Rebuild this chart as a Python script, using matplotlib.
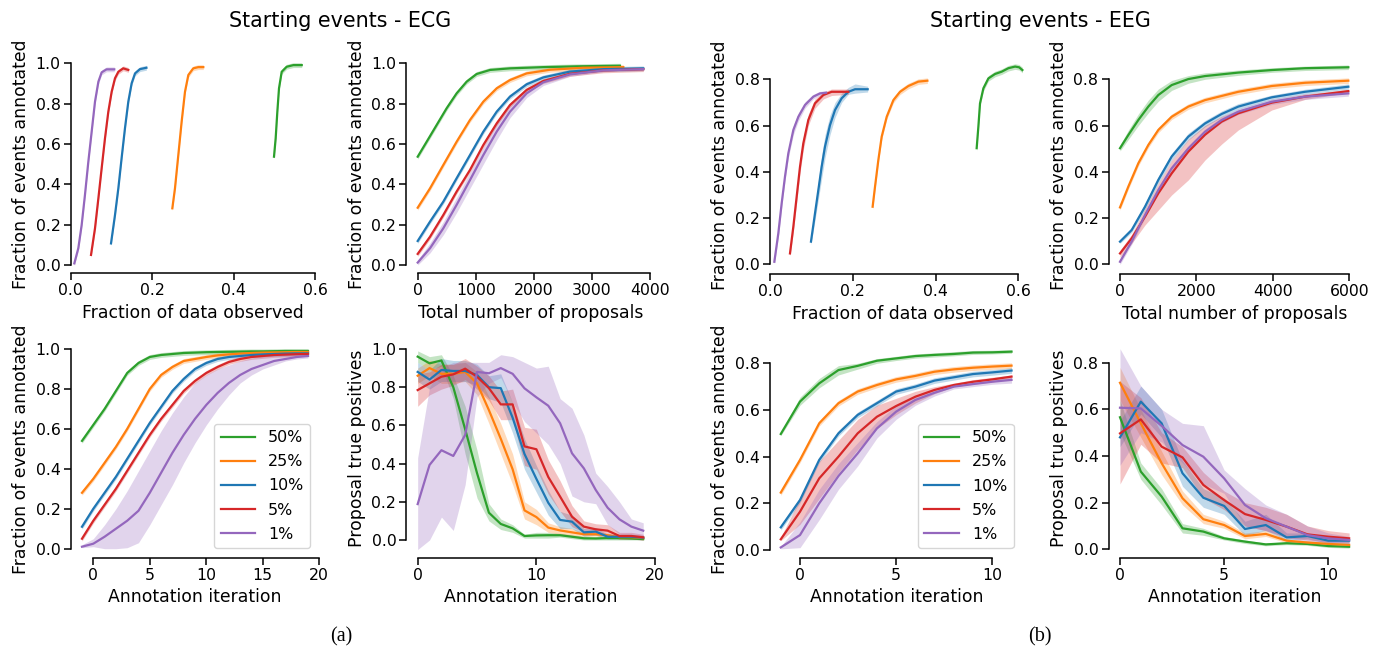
import matplotlib.pyplot as plt

W, H = 1381, 651

labels = ['50%', '25%', '10%', '5%', '1%']
colors = ['tab:green', 'tab:orange', 'tab:blue', 'tab:red', 'tab:purple']

# ---------------- ECG ----------------
# fraction of data observed vs fraction of events annotated
ecg_obs_x = [
    [0.4993, 0.5034, 0.5075, 0.5116, 0.5182, 0.5305, 0.5469, 0.5674],
    [0.2496, 0.2561, 0.2643, 0.2725, 0.2807, 0.2889, 0.301, 0.3134, 0.3257],
    [0.099, 0.1088, 0.117, 0.125, 0.1333, 0.1415, 0.1497, 0.158, 0.170, 0.186],
    [0.0499, 0.0597, 0.068, 0.076, 0.0842, 0.0924, 0.1006, 0.1088, 0.117, 0.129, 0.1415],
    [0.0089, 0.0187, 0.0269, 0.035, 0.0433, 0.0515, 0.0597, 0.068, 0.076, 0.088, 0.107],
]
ecg_obs_y = [
    [0.537, 0.628, 0.760, 0.876, 0.958, 0.983, 0.991, 0.991],
    [0.281, 0.380, 0.545, 0.711, 0.859, 0.942, 0.975, 0.981, 0.981],
    [0.107, 0.248, 0.380, 0.529, 0.678, 0.810, 0.901, 0.950, 0.971, 0.978],
    [0.050, 0.182, 0.331, 0.479, 0.628, 0.760, 0.859, 0.926, 0.958, 0.975, 0.967],
    [0.008, 0.083, 0.198, 0.347, 0.512, 0.661, 0.810, 0.909, 0.955, 0.970, 0.970],
]

# total number of proposals
ecg_prop_x = [
    [0, 154, 326, 498, 670, 843, 1015, 1245, 1589, 2163, 2737, 3483],
    [0, 212, 441, 670, 900, 1130, 1360, 1589, 1876, 2278, 2852, 3541],
    [0, 212, 441, 670, 900, 1130, 1360, 1589, 1876, 2163, 2622, 3196, 3885],
    [0, 212, 441, 670, 900, 1130, 1360, 1589, 1876, 2163, 2622, 3196, 3885],
    [0, 212, 441, 670, 900, 1130, 1360, 1589, 1876, 2163, 2622, 3196, 3885],
]
ecg_prop_y = [
    [0.537, 0.611, 0.694, 0.777, 0.851, 0.909, 0.947, 0.967, 0.975, 0.981, 0.985, 0.988],
    [0.284, 0.380, 0.496, 0.611, 0.719, 0.810, 0.876, 0.917, 0.950, 0.968, 0.978, 0.981],
    [0.119, 0.215, 0.314, 0.430, 0.545, 0.661, 0.760, 0.835, 0.896, 0.930, 0.959, 0.971, 0.975],
    [0.055, 0.140, 0.248, 0.364, 0.471, 0.595, 0.702, 0.793, 0.868, 0.912, 0.948, 0.965, 0.971],
    [0.012, 0.083, 0.182, 0.298, 0.421, 0.545, 0.661, 0.760, 0.851, 0.906, 0.945, 0.965, 0.971],
]
ecg_prop_lo = [None, None, None, None,
               [0.0, 0.06, 0.15, 0.26, 0.38, 0.50, 0.62, 0.73, 0.83, 0.89, 0.935, 0.958, 0.965]]
ecg_prop_hi = [None, None, None, None,
               [0.025, 0.11, 0.215, 0.335, 0.46, 0.585, 0.70, 0.79, 0.87, 0.92, 0.955, 0.972, 0.977]]

# annotation iteration vs fraction annotated
ecg_iter_x = list(range(-1, 20))
ecg_iter_y = [
    [0.54, 0.62, 0.70, 0.79, 0.88, 0.93, 0.96, 0.97, 0.975, 0.98, 0.982, 0.984, 0.985, 0.986, 0.987, 0.988, 0.988, 0.989, 0.99, 0.99, 0.99],
    [0.28, 0.35, 0.43, 0.51, 0.60, 0.70, 0.80, 0.87, 0.91, 0.94, 0.95, 0.96, 0.968, 0.973, 0.977, 0.98, 0.982, 0.983, 0.984, 0.985, 0.985],
    [0.11, 0.20, 0.28, 0.36, 0.45, 0.54, 0.63, 0.71, 0.79, 0.85, 0.90, 0.93, 0.95, 0.96, 0.965, 0.97, 0.973, 0.975, 0.977, 0.978, 0.978],
    [0.05, 0.14, 0.22, 0.30, 0.39, 0.48, 0.57, 0.65, 0.72, 0.79, 0.84, 0.88, 0.91, 0.935, 0.95, 0.96, 0.965, 0.97, 0.972, 0.974, 0.975],
    [0.01, 0.025, 0.06, 0.10, 0.14, 0.19, 0.28, 0.38, 0.48, 0.57, 0.65, 0.72, 0.78, 0.83, 0.87, 0.90, 0.92, 0.94, 0.95, 0.96, 0.965],
]
ecg_iter_lo = [None, None, None, None,
               [0.005, 0.01, 0.0, 0.0, 0.005, 0.03, 0.12, 0.22, 0.32, 0.43, 0.53, 0.62, 0.70, 0.77, 0.83, 0.87, 0.90, 0.92, 0.94, 0.95, 0.955]]
ecg_iter_hi = [None, None, None, None,
               [0.02, 0.05, 0.12, 0.20, 0.29, 0.39, 0.49, 0.59, 0.68, 0.76, 0.83, 0.87, 0.90, 0.92, 0.94, 0.955, 0.965, 0.97, 0.975, 0.975, 0.975]]

# annotation iteration vs proposal true positives
ecg_tp_x = list(range(0, 20))
ecg_tp_y = [
    [0.96, 0.925, 0.94, 0.80, 0.58, 0.35, 0.143, 0.084, 0.061, 0.021, 0.024, 0.025, 0.025, 0.017, 0.009, 0.008, 0.01, 0.01, 0.008, 0.005],
    [0.86, 0.90, 0.87, 0.87, 0.88, 0.82, 0.68, 0.53, 0.37, 0.155, 0.12, 0.065, 0.05, 0.04, 0.03, 0.03, 0.025, 0.015, 0.015, 0.01],
    [0.88, 0.84, 0.89, 0.885, 0.885, 0.864, 0.80, 0.795, 0.64, 0.45, 0.32, 0.195, 0.105, 0.096, 0.04, 0.044, 0.017, 0.017, 0.017, 0.012],
    [0.785, 0.82, 0.855, 0.867, 0.897, 0.855, 0.795, 0.71, 0.71, 0.49, 0.475, 0.33, 0.227, 0.122, 0.07, 0.056, 0.049, 0.021, 0.021, 0.014],
    [0.188, 0.393, 0.47, 0.44, 0.55, 0.88, 0.873, 0.90, 0.87, 0.794, 0.747, 0.703, 0.611, 0.454, 0.375, 0.262, 0.169, 0.108, 0.07, 0.049],
]
ecg_tp_lo = [
    [0.93, 0.89, 0.91, 0.74, 0.45, 0.22, 0.10, 0.055, 0.04, 0.01, 0.01, 0.01, 0.015, 0.007, 0.0, 0.0, 0.0, 0.0, 0.0, 0.0],
    [0.82, 0.86, 0.82, 0.82, 0.83, 0.76, 0.61, 0.45, 0.29, 0.11, 0.08, 0.04, 0.03, 0.02, 0.02, 0.02, 0.015, 0.005, 0.005, 0.0],
    [0.83, 0.79, 0.83, 0.83, 0.83, 0.81, 0.74, 0.72, 0.56, 0.37, 0.25, 0.13, 0.06, 0.06, 0.02, 0.025, 0.005, 0.005, 0.005, 0.0],
    [0.70, 0.76, 0.79, 0.81, 0.84, 0.79, 0.73, 0.63, 0.63, 0.39, 0.37, 0.24, 0.15, 0.07, 0.04, 0.03, 0.02, 0.005, 0.005, 0.0],
    [-0.05, 0.0, 0.12, 0.05, 0.29, 0.75, 0.82, 0.85, 0.72, 0.62, 0.56, 0.50, 0.40, 0.23, 0.20, 0.19, 0.08, 0.03, 0.02, 0.01],
]
ecg_tp_hi = [
    [0.99, 0.96, 0.97, 0.86, 0.70, 0.47, 0.19, 0.11, 0.08, 0.03, 0.04, 0.04, 0.035, 0.027, 0.02, 0.018, 0.02, 0.02, 0.018, 0.015],
    [0.90, 0.94, 0.92, 0.92, 0.93, 0.88, 0.75, 0.61, 0.45, 0.20, 0.16, 0.09, 0.07, 0.06, 0.04, 0.04, 0.035, 0.025, 0.025, 0.02],
    [0.93, 0.89, 0.95, 0.94, 0.94, 0.92, 0.86, 0.87, 0.72, 0.53, 0.39, 0.26, 0.15, 0.13, 0.06, 0.065, 0.03, 0.03, 0.03, 0.025],
    [0.87, 0.88, 0.92, 0.92, 0.95, 0.91, 0.86, 0.78, 0.79, 0.59, 0.58, 0.42, 0.31, 0.18, 0.10, 0.085, 0.08, 0.04, 0.04, 0.03],
    [0.43, 0.80, 0.90, 0.93, 0.93, 0.93, 0.93, 0.97, 0.96, 0.93, 0.90, 0.91, 0.74, 0.69, 0.55, 0.35, 0.28, 0.20, 0.11, 0.09],
]

# ---------------- EEG ----------------
eeg_obs_x = [
    [0.4994, 0.5035, 0.5075, 0.5156, 0.5277, 0.5438, 0.5599, 0.576, 0.5922, 0.6018, 0.6099],
    [0.248, 0.2538, 0.2618, 0.2699, 0.282, 0.2981, 0.3142, 0.3344, 0.3585, 0.3803],
    [0.099, 0.1087, 0.1168, 0.1248, 0.1329, 0.145, 0.1571, 0.1732, 0.1893, 0.2055, 0.236],
    [0.0483, 0.0564, 0.0644, 0.0725, 0.0805, 0.0926, 0.1087, 0.1289, 0.149, 0.1893],
    [0.0105, 0.0201, 0.0282, 0.0362, 0.0443, 0.0564, 0.0685, 0.0846, 0.1047, 0.1208, 0.1353],
]
eeg_obs_y = [
    [0.502, 0.595, 0.696, 0.761, 0.804, 0.823, 0.833, 0.848, 0.855, 0.852, 0.840],
    [0.249, 0.336, 0.451, 0.552, 0.638, 0.710, 0.746, 0.771, 0.790, 0.794],
    [0.098, 0.220, 0.321, 0.422, 0.509, 0.602, 0.667, 0.718, 0.746, 0.757, 0.757],
    [0.047, 0.163, 0.292, 0.422, 0.523, 0.624, 0.696, 0.732, 0.746, 0.746],
    [0.011, 0.134, 0.264, 0.379, 0.480, 0.581, 0.638, 0.689, 0.725, 0.739, 0.742],
]
eeg_obs_lo = [None, None,
              [0.085, 0.19, 0.28, 0.37, 0.46, 0.56, 0.635, 0.70, 0.735, 0.74, 0.745],
              [0.035, 0.14, 0.265, 0.395, 0.495, 0.60, 0.675, 0.715, 0.73, 0.735],
              [0.0, 0.115, 0.245, 0.36, 0.46, 0.56, 0.62, 0.675, 0.715, 0.73, 0.735]]
eeg_obs_hi = [None, None,
              [0.11, 0.25, 0.36, 0.47, 0.56, 0.645, 0.70, 0.74, 0.765, 0.78, 0.77],
              [0.06, 0.185, 0.32, 0.45, 0.55, 0.65, 0.715, 0.745, 0.758, 0.758],
              [0.022, 0.152, 0.283, 0.398, 0.50, 0.60, 0.655, 0.703, 0.735, 0.748, 0.75]]

eeg_prop_x = [
    [0, 218, 480, 741, 1003, 1352, 1788, 2224, 3096, 3969, 4841, 5975],
    [0, 218, 480, 741, 1003, 1352, 1788, 2224, 3096, 3969, 4841, 5975],
    [0, 305, 654, 1003, 1352, 1788, 2224, 2660, 3096, 3969, 4841, 5975],
    [0, 305, 654, 1003, 1352, 1788, 2224, 2660, 3096, 3969, 4841, 5975],
    [0, 305, 654, 1003, 1352, 1788, 2224, 2660, 3096, 3969, 4841, 5975],
]
eeg_prop_y = [
    [0.502, 0.559, 0.624, 0.682, 0.732, 0.775, 0.801, 0.814, 0.829, 0.840, 0.848, 0.852],
    [0.246, 0.336, 0.437, 0.516, 0.581, 0.638, 0.682, 0.710, 0.746, 0.771, 0.785, 0.794],
    [0.098, 0.148, 0.249, 0.365, 0.466, 0.552, 0.609, 0.650, 0.682, 0.722, 0.746, 0.768],
    [0.047, 0.112, 0.206, 0.307, 0.393, 0.487, 0.560, 0.617, 0.653, 0.699, 0.725, 0.749],
    [0.011, 0.098, 0.213, 0.321, 0.415, 0.501, 0.573, 0.624, 0.660, 0.703, 0.725, 0.739],
]
eeg_prop_lo = [[0.49, 0.54, 0.60, 0.655, 0.705, 0.752, 0.783, 0.80, 0.817, 0.83, 0.838, 0.842],
               None,
               [0.09, 0.138, 0.236, 0.35, 0.45, 0.537, 0.595, 0.637, 0.67, 0.712, 0.736, 0.757],
               [0.03, 0.09, 0.17, 0.235, 0.30, 0.365, 0.451, 0.52, 0.581, 0.667, 0.713, 0.742],
               None]
eeg_prop_hi = [[0.515, 0.58, 0.65, 0.71, 0.758, 0.795, 0.816, 0.828, 0.84, 0.85, 0.857, 0.862],
               None,
               [0.108, 0.16, 0.263, 0.38, 0.48, 0.567, 0.622, 0.663, 0.695, 0.732, 0.757, 0.78],
               [0.06, 0.13, 0.24, 0.35, 0.45, 0.54, 0.60, 0.64, 0.667, 0.71, 0.736, 0.756],
               None]

eeg_iter_x = list(range(-1, 12))
eeg_iter_y = [
    [0.497, 0.636, 0.714, 0.771, 0.789, 0.811, 0.821, 0.831, 0.836, 0.84, 0.846, 0.847, 0.85],
    [0.246, 0.386, 0.543, 0.629, 0.679, 0.707, 0.731, 0.746, 0.764, 0.774, 0.781, 0.786, 0.79],
    [0.097, 0.214, 0.386, 0.50, 0.579, 0.629, 0.679, 0.70, 0.726, 0.74, 0.754, 0.761, 0.769],
    [0.046, 0.164, 0.307, 0.40, 0.50, 0.571, 0.617, 0.657, 0.686, 0.707, 0.721, 0.731, 0.743],
    [0.011, 0.064, 0.20, 0.317, 0.414, 0.521, 0.593, 0.643, 0.674, 0.70, 0.711, 0.721, 0.729],
]
eeg_iter_lo = [[0.49, 0.62, 0.695, 0.75, 0.775, 0.80, 0.812, 0.822, 0.827, 0.832, 0.838, 0.84, 0.843],
               None, None,
               [0.04, 0.11, 0.22, 0.33, 0.43, 0.52, 0.58, 0.63, 0.67, 0.70, 0.71, 0.72, 0.735],
               [0.005, 0.01, 0.13, 0.26, 0.36, 0.48, 0.56, 0.62, 0.66, 0.69, 0.70, 0.71, 0.715]]
eeg_iter_hi = [[0.505, 0.655, 0.735, 0.79, 0.80, 0.82, 0.83, 0.84, 0.845, 0.85, 0.855, 0.856, 0.858],
               None, None,
               [0.055, 0.22, 0.38, 0.47, 0.56, 0.62, 0.65, 0.68, 0.70, 0.715, 0.73, 0.74, 0.75],
               [0.015, 0.12, 0.26, 0.37, 0.46, 0.55, 0.62, 0.66, 0.69, 0.71, 0.72, 0.73, 0.74]]

eeg_tp_x = list(range(0, 12))
eeg_tp_y = [
    [0.566, 0.333, 0.226, 0.09, 0.076, 0.047, 0.033, 0.021, 0.026, 0.023, 0.014, 0.011],
    [0.714, 0.54, 0.369, 0.219, 0.129, 0.104, 0.057, 0.066, 0.037, 0.029, 0.023, 0.019],
    [0.48, 0.633, 0.54, 0.326, 0.221, 0.186, 0.087, 0.104, 0.051, 0.057, 0.037, 0.037],
    [0.497, 0.557, 0.44, 0.394, 0.276, 0.211, 0.151, 0.126, 0.097, 0.064, 0.054, 0.047],
    [0.607, 0.604, 0.529, 0.447, 0.397, 0.304, 0.19, 0.133, 0.097, 0.061, 0.047, 0.04],
]
eeg_tp_lo = [
    [0.50, 0.30, 0.19, 0.07, 0.06, 0.04, 0.025, 0.015, 0.02, 0.017, 0.008, 0.005],
    [0.64, 0.48, 0.32, 0.19, 0.11, 0.09, 0.045, 0.055, 0.028, 0.02, 0.015, 0.012],
    [0.44, 0.58, 0.48, 0.27, 0.18, 0.15, 0.06, 0.08, 0.04, 0.045, 0.025, 0.025],
    [0.28, 0.45, 0.37, 0.35, 0.22, 0.17, 0.10, 0.08, 0.05, 0.04, 0.03, 0.03],
    [0.36, 0.50, 0.46, 0.37, 0.28, 0.24, 0.10, 0.08, 0.05, 0.03, 0.03, 0.025],
]
eeg_tp_hi = [
    [0.64, 0.37, 0.26, 0.11, 0.09, 0.055, 0.04, 0.027, 0.032, 0.03, 0.02, 0.018],
    [0.78, 0.60, 0.42, 0.25, 0.15, 0.12, 0.07, 0.08, 0.045, 0.037, 0.03, 0.025],
    [0.55, 0.70, 0.60, 0.38, 0.26, 0.22, 0.12, 0.15, 0.07, 0.07, 0.05, 0.05],
    [0.72, 0.65, 0.50, 0.44, 0.33, 0.25, 0.20, 0.18, 0.15, 0.10, 0.08, 0.07],
    [0.86, 0.70, 0.60, 0.54, 0.53, 0.34, 0.26, 0.19, 0.15, 0.10, 0.07, 0.055],
]

HALO = 0.012
LW = 1.6
TICK_FS = 11.3
LABEL_FS = 12.4


def place(fig, xa, xb, ya, yb, xlim, ylim):
    # xa/xb/ya/yb: (data value, pixel) pairs of two known ticks
    sx = (xb[1] - xa[1]) / (xb[0] - xa[0])
    sy = (ya[1] - yb[1]) / (yb[0] - ya[0])
    left = xa[1] + (xlim[0] - xa[0]) * sx
    right = xa[1] + (xlim[1] - xa[0]) * sx
    bottom = ya[1] + (ya[0] - ylim[0]) * sy
    top = ya[1] - (ylim[1] - ya[0]) * sy
    ax = fig.add_axes([left / W, 1 - bottom / H, (right - left) / W, (bottom - top) / H])
    ax.set_xlim(*xlim)
    ax.set_ylim(*ylim)
    return ax


def style(ax, xticks, yticks, xlabel, ylabel):
    ax.set_xticks(xticks)
    ax.set_yticks(yticks)
    ax.spines[['top', 'right']].set_visible(False)
    ax.spines['bottom'].set_bounds(xticks[0], xticks[-1])
    ax.spines['left'].set_bounds(yticks[0], yticks[-1])
    for s in ('bottom', 'left'):
        ax.spines[s].set_linewidth(1.1)
    ax.tick_params(labelsize=TICK_FS, length=4.8, width=1.1, pad=2.5)
    ax.set_xlabel(xlabel, fontsize=LABEL_FS, labelpad=4)
    ax.set_ylabel(ylabel, fontsize=LABEL_FS, labelpad=4)


def draw(ax, xs, ys, lo=None, hi=None, legend=False):
    for i in range(5):
        x = xs[i] if isinstance(xs[0], list) else xs
        y = ys[i]
        if lo is not None and lo[i] is not None:
            l, h = lo[i], hi[i]
        else:
            l = [v - HALO for v in y]
            h = [v + HALO for v in y]
        ax.fill_between(x, l, h, color=colors[i], alpha=0.28, lw=0)
        ax.plot(x, y, color=colors[i], lw=LW, label=labels[i])
    if legend:
        ax.legend(loc='lower right', fontsize=11.4, handlelength=2.2,
                  borderaxespad=0.6, labelspacing=0.58)


fig = plt.figure(figsize=(W / 100, H / 100), dpi=100)

yl_frac = 'Fraction of events annotated'

# ECG panels
ax = place(fig, (0, 70.7), (0.6, 315), (0, 265), (1, 63.3), (0, 0.6), (-0.04, 1.04))
draw(ax, ecg_obs_x, ecg_obs_y)
style(ax, [0, 0.2, 0.4, 0.6], [0, 0.2, 0.4, 0.6, 0.8, 1.0], 'Fraction of data observed', yl_frac)

ax = place(fig, (0, 417.7), (4000, 650), (0, 265), (1, 63.3), (-195, 4095), (-0.04, 1.04))
draw(ax, ecg_prop_x, ecg_prop_y, ecg_prop_lo, ecg_prop_hi)
style(ax, [0, 1000, 2000, 3000, 4000], [0, 0.2, 0.4, 0.6, 0.8, 1.0], 'Total number of proposals', yl_frac)

ax = place(fig, (0, 93.3), (20, 319.3), (0, 548.7), (1, 349), (-2, 20), (-0.045, 1.04))
draw(ax, ecg_iter_x, ecg_iter_y, ecg_iter_lo, ecg_iter_hi, legend=True)
style(ax, [0, 5, 10, 15, 20], [0, 0.2, 0.4, 0.6, 0.8, 1.0], 'Annotation iteration', yl_frac)

ax = place(fig, (0, 417.7), (20, 655.7), (0, 540), (1, 349), (-0.95, 19.95), (-0.093, 1.05))
draw(ax, ecg_tp_x, ecg_tp_y, ecg_tp_lo, ecg_tp_hi)
style(ax, [0, 10, 20], [0, 0.2, 0.4, 0.6, 0.8, 1.0], 'Annotation iteration', 'Proposal true positives')

# EEG panels
ax = place(fig, (0, 770), (0.6, 1018.3), (0, 264.3), (0.8, 79.3), (0, 0.64), (-0.042, 0.9))
draw(ax, eeg_obs_x, eeg_obs_y, eeg_obs_lo, eeg_obs_hi)
style(ax, [0, 0.2, 0.4, 0.6], [0, 0.2, 0.4, 0.6, 0.8], 'Fraction of data observed', yl_frac)

ax = place(fig, (0, 1120), (6000, 1349.3), (0, 264.3), (0.8, 79.3), (-300, 6300), (-0.042, 0.9))
draw(ax, eeg_prop_x, eeg_prop_y, eeg_prop_lo, eeg_prop_hi)
style(ax, [0, 2000, 4000, 6000], [0, 0.2, 0.4, 0.6, 0.8], 'Total number of proposals', yl_frac)

ax = place(fig, (0, 800), (10, 992.3), (0, 550), (0.8, 363.3), (-1.55, 11.6), (-0.033, 0.9))
draw(ax, eeg_iter_x, eeg_iter_y, eeg_iter_lo, eeg_iter_hi, legend=True)
style(ax, [0, 5, 10], [0, 0.2, 0.4, 0.6, 0.8], 'Annotation iteration', yl_frac)

ax = place(fig, (0, 1120), (10, 1328.3), (0, 549.3), (0.8, 362.7), (-0.55, 11.55), (-0.036, 0.9))
draw(ax, eeg_tp_x, eeg_tp_y, eeg_tp_lo, eeg_tp_hi)
style(ax, [0, 5, 10], [0, 0.2, 0.4, 0.6, 0.8], 'Annotation iteration', 'Proposal true positives')

fig.text(340.5 / W, 1 - 21 / H, 'Starting events - ECG', ha='center', va='center', fontsize=14.9)
fig.text(1040 / W, 1 - 21 / H, 'Starting events - EEG', ha='center', va='center', fontsize=14.9)
fig.text(341 / W, 1 - 637 / H, '(a)', ha='center', va='center', fontsize=14.5, family='Liberation Serif')
fig.text(1040 / W, 1 - 637 / H, '(b)', ha='center', va='center', fontsize=14.5, family='Liberation Serif')

fig.savefig('out.png', dpi=100)
